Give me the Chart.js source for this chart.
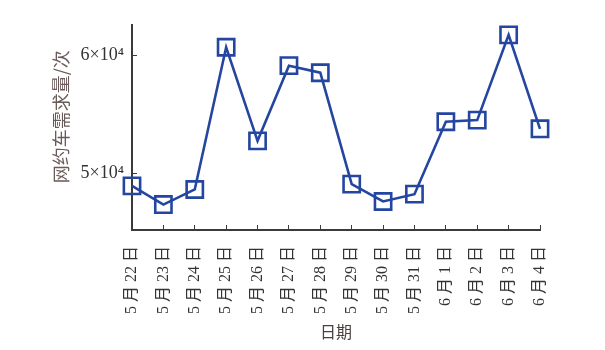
<!DOCTYPE html>
<html>
<head>
<meta charset="utf-8">
<script src="https://cdn.jsdelivr.net/npm/chart.js@4/dist/chart.umd.min.js"></script>
<style>
  html, body { margin: 0; padding: 0; background: #fff; }
  #wrap { width: 605px; height: 350px; }
</style>
</head>
<body>
<div id="wrap"><canvas id="demandChart"></canvas></div>
<script>
// 日期
const dates = ['5月22日', '5月23日', '5月24日', '5月25日', '5月26日', '5月27日', '5月28日',
               '5月29日', '5月30日', '5月31日', '6月1日', '6月2日', '6月3日', '6月4日'];
// 网约车需求量 (次)
const demand = [48950, 47360, 48640, 60710, 52770, 59150, 58550,
                49090, 47620, 48240, 54390, 54530, 61760, 53790];
// 纵轴刻度
const yTicks = [50000, 60000];
const yTickLabels = ['5×10⁴', '6×10⁴'];
const yMin = 45200;
const yMax = 62600;

const lineColor = '#2446a0';
const axisColor = '#3a3a3a';
const serif = "'Liberation Serif', 'Noto Sans CJK SC', serif";
const cjk = "'Noto Sans CJK SC', sans-serif";

// 数字与汉字之间留空
const spaced = (s) => s.match(/\d+|\D/g).join(' ');

new Chart(document.getElementById('demandChart'), {
    type: 'line',
    data: {
        labels: dates,
        datasets: [{
            data: demand,
            borderColor: lineColor,
            borderWidth: 2.6,
            tension: 0,
            pointStyle: 'rect',
            pointRadius: 11.5,
            pointBorderWidth: 2.6,
            pointBorderColor: lineColor,
            pointBackgroundColor: 'rgba(0,0,0,0)',
            fill: false
        }]
    },
    options: {
        responsive: true,
        maintainAspectRatio: false,
        animation: false,
        layout: { padding: { left: 50, top: 25, right: 65, bottom: 0 } },
        plugins: { legend: { display: false }, tooltip: { enabled: false } },
        scales: {
            x: {
                offset: false,
                border: { color: axisColor, width: 2 },
                grid: { drawOnChartArea: false, color: axisColor, lineWidth: 1, tickLength: -5 },
                ticks: {
                    minRotation: 90, maxRotation: 90, autoSkip: false,
                    padding: 21, color: '#333',
                    font: { family: serif, size: 16 },
                    callback: (v, i) => spaced(dates[i])
                },
                title: {
                    display: true, text: '日期', color: '#4a4040',
                    font: { family: cjk, size: 16 },
                    padding: { top: 0, bottom: 8 }
                },
                afterFit(scale) { scale.height = 120; }
            },
            y: {
                min: yMin, max: yMax,
                border: { color: axisColor, width: 2 },
                grid: { drawOnChartArea: false, color: axisColor, lineWidth: 1, tickLength: -5 },
                afterBuildTicks(scale) { scale.ticks = yTicks.map(v => ({ value: v })); },
                ticks: {
                    padding: 13, color: '#333',
                    font: { family: serif, size: 18 },
                    callback: (v) => yTickLabels[yTicks.indexOf(v)]
                },
                title: {
                    display: true, text: '\u2003\u2009网约车需求量/次', color: '#6a5a58',
                    font: { family: cjk, size: 18 },
                    padding: { top: 0, bottom: 0 }
                },
                afterFit(scale) { scale.width = 82; }
            }
        }
    }
});
</script>
</body>
</html>
